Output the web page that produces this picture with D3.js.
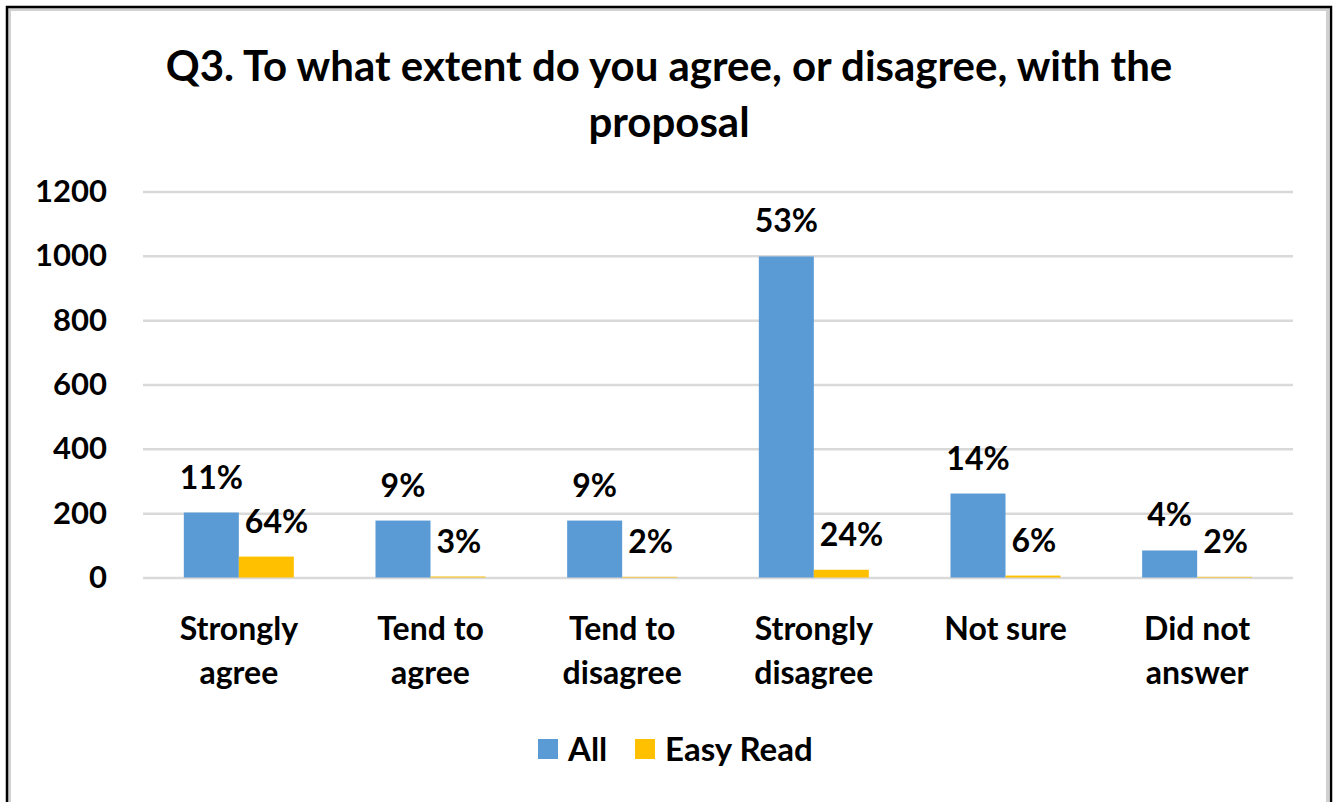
<!DOCTYPE html>
<html>
<head>
<meta charset="utf-8">
<script src="https://cdn.jsdelivr.net/npm/d3@7"></script>
<style>
  html, body { margin: 0; padding: 0; background: #fff; }
  svg { display: block; }
  svg text { font-family: Lato, "Open Sans", "DejaVu Sans", sans-serif; font-weight: bold; fill: #000; }
</style>
</head>
<body>
<svg id="chart" width="1334" height="802"></svg>
<script>
// Chart data
const titleLines = ["Q3. To what extent do you agree, or disagree, with the", "proposal"];
const categories = ["Strongly agree", "Tend to agree", "Tend to disagree", "Strongly disagree", "Not sure", "Did not answer"];
const categoryLines = [["Strongly", "agree"], ["Tend to", "agree"], ["Tend to", "disagree"], ["Strongly", "disagree"], ["Not sure"], ["Did not", "answer"]];
const seriesNames = ["All", "Easy Read"];
const allValues = [202, 177, 177, 998, 261, 84];
const easyReadValues = [65, 3, 2, 24, 6, 2];
const yTicks = [0, 200, 400, 600, 800, 1000, 1200];
const seriesColors = ["#5b9bd5", "#ffc000"];

const svg = d3.select("#chart");

// Frame around the chart area
svg.append("rect").attr("x", 9.5).attr("y", 9.5).attr("width", 1318).attr("height", 820)
  .attr("fill", "none").attr("stroke", "#d0d0d0").attr("stroke-width", 3);
svg.append("rect").attr("x", 7).attr("y", 7).attr("width", 1324).attr("height", 830)
  .attr("fill", "none").attr("stroke", "#000").attr("stroke-width", 2.5);

const plot = { left: 143, right: 1293, top: 191.5, bottom: 577.5 };

const x0 = d3.scaleBand().domain(categories).range([plot.left, plot.right])
  .paddingInner(0.426).paddingOuter(0.213);
const x1 = d3.scaleBand().domain(seriesNames).range([0, x0.bandwidth()]);
const y = d3.scaleLinear().domain([0, 1200]).range([plot.bottom, plot.top]);

const series = [allValues, easyReadValues];
const totals = series.map(s => d3.sum(s));
const pct = d3.format(".0%");

// Gridlines
const grid = svg.append("g").attr("transform", `translate(${plot.left},0)`)
  .call(d3.axisLeft(y).tickValues(yTicks).tickSize(-(plot.right - plot.left)).tickFormat(""));
grid.select(".domain").remove();
grid.selectAll(".tick line").attr("stroke", "#d9d9d9").attr("stroke-width", 2.5);

// Y axis labels
const yAxis = svg.append("g").attr("transform", `translate(${plot.left},0)`)
  .call(d3.axisLeft(y).tickValues(yTicks).tickSize(0).tickPadding(36).tickFormat(d3.format("d")))
  .attr("font-family", null).attr("font-size", null);
yAxis.select(".domain").remove();
yAxis.selectAll("text").style("font-size", "31px");

// Bars
const rows = categories.map((c, i) => ({ c, vals: series.map((s, k) => ({ k, name: seriesNames[k], v: s[i], p: s[i] / totals[k] })) }));
const groups = svg.append("g").selectAll("g").data(rows).join("g")
  .attr("transform", d => `translate(${x0(d.c)},0)`);
groups.selectAll("rect").data(d => d.vals).join("rect")
  .attr("x", d => x1(d.name))
  .attr("width", x1.bandwidth())
  .attr("y", d => y(d.v))
  .attr("height", d => y(0) - y(d.v))
  .attr("fill", d => seriesColors[d.k]);

// Value labels (percent of each series' total), nudged clear of the neighbouring bar
groups.each(function (d) {
  const g = d3.select(this);
  d.vals.forEach(v => {
    const cx = x1(v.name) + x1.bandwidth() / 2;
    const t = g.append("text")
      .attr("x", cx).attr("y", y(v.v) - 24)
      .attr("text-anchor", "middle").style("font-size", "32px")
      .text(pct(v.p));
    if (v.k === 1) {
      const other = d.vals[0];
      const w = t.node().getComputedTextLength();
      const blueTop = y(other.v);
      const labelBottom = y(v.v) - 24;
      const left = cx - w / 2;
      const blueRight = x1(other.name) + x1.bandwidth();
      if (labelBottom > blueTop && left < blueRight + 6) {
        t.attr("x", blueRight + 6 + w / 2);
      }
    }
  });
});

// X axis category labels
const xAxis = svg.append("g").attr("transform", `translate(0,${plot.bottom})`)
  .call(d3.axisBottom(x0).tickSize(0).tickFormat(""))
  .attr("font-family", null).attr("font-size", null);
xAxis.select(".domain").remove();
xAxis.selectAll(".tick").each(function (c, i) {
  const t = d3.select(this).append("text")
    .attr("text-anchor", "middle").style("font-size", "32px");
  categoryLines[i].forEach((line, j) => {
    t.append("tspan").attr("x", 0).attr("y", 62 + j * 44).text(line);
  });
});

// Title
const title = svg.append("text").attr("text-anchor", "middle").style("font-size", "42px");
titleLines.forEach((line, j) => {
  title.append("tspan").attr("x", 669).attr("y", 81 + j * 56).text(line);
});

// Legend
const legend = svg.append("g").attr("transform", "translate(538,739)");
const items = [{ name: seriesNames[0], x: 0 }, { name: seriesNames[1], x: 97 }];
items.forEach((it, k) => {
  legend.append("rect").attr("x", it.x).attr("y", 0).attr("width", 20).attr("height", 20).attr("fill", seriesColors[k]);
  legend.append("text").attr("x", it.x + 30).attr("y", 22).style("font-size", "33px").text(it.name);
});
</script>
</body>
</html>
